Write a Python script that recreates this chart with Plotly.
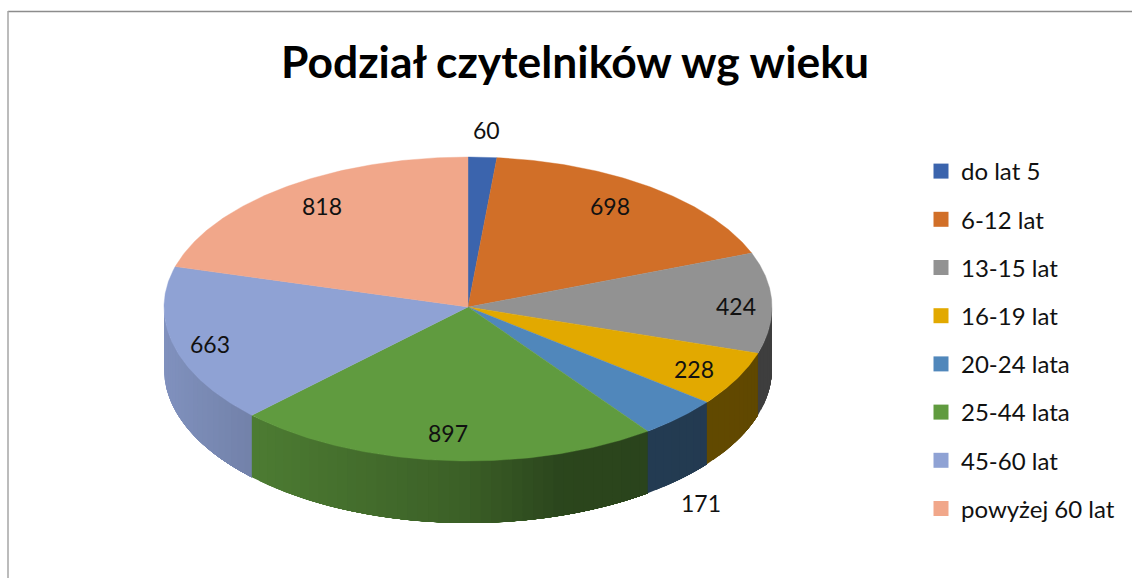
import numpy as np
import plotly.graph_objects as go

# --- data
categories = ["do lat 5", "6-12 lat", "13-15 lat", "16-19 lat", "20-24 lata", "25-44 lata", "45-60 lat", "powyżej 60 lat"]
values = [60, 698, 424, 228, 171, 897, 663, 818]
title_text = "Podział czytelników wg wieku"

# --- style
colors = ["#3b64ad", "#d16f28", "#929292", "#e2a900", "#5087bb", "#609b3f", "#8fa2d4", "#f1a78a"]
FONT = "Lato, 'Open Sans', sans-serif"
W, H = 1132, 578
CX, CY, RX, RY_BACK, RY_FRONT, DEPTH = 468, 307, 304, 150, 154, 62
label_radius = [1.17, 0.8, 0.88, 0.84, 1.0, 0.85, 0.87, 0.8]
label_shift = [(2, -2), (-5, -5), (1, 3), (0, 2), (22, 85), (0, -4), (-2, 3), (1, -5)]


def rim(t):
    """Point on the top ellipse for clockwise angles t (radians, 0 = up)."""
    c = np.cos(t)
    return CX + RX * np.sin(t), CY - np.where(c > 0, RY_BACK, RY_FRONT) * c


def shade(x):
    return np.interp(x, [160, 250, 460, 560, 800], [0.9, 0.8, 0.62, 0.45, 0.42])


def scaled(hex_color, k):
    r, g, b = (int(hex_color[i:i + 2], 16) for i in (1, 3, 5))
    return f"rgb({r * k:.0f},{g * k:.0f},{b * k:.0f})"


fractions = np.array(values) / sum(values)
edges = np.concatenate([[0], np.cumsum(fractions)]) * 2 * np.pi
fig = go.Figure()

# side wall, visible on the front half; each strip runs on to the end of its
# slice and the next one paints over it, so no seams appear in the gradient
STEP = np.radians(2)
for i in range(len(colors) - 1, -1, -1):
    a, b = max(edges[i], np.pi / 2), min(edges[i + 1], 3 * np.pi / 2)
    if b <= a:
        continue
    n = max(1, int(np.ceil((b - a) / STEP)))
    ts = np.linspace(a, b, n + 1)
    # painted from the slice's far end towards its start, narrowing towards the start
    for t1 in ts[1:][::-1]:
        tt = np.linspace(a, t1, 40)
        x, y = rim(tt)
        px = np.concatenate([x, x[::-1]])
        py = np.concatenate([y, (y + DEPTH)[::-1]])
        xm = float(rim(np.array([t1 - (b - a) / n / 2]))[0][0])
        c = scaled(colors[i], float(shade(xm)))
        fig.add_trace(go.Scatter(x=px, y=py, mode="lines", fill="toself", fillcolor=c,
                                 line=dict(width=0), showlegend=False, hoverinfo="skip"))

# top face
for i, col in enumerate(colors):
    tt = np.linspace(edges[i], edges[i + 1], 120)
    x, y = rim(tt)
    fig.add_trace(go.Scatter(x=np.r_[CX, x, CX], y=np.r_[CY, y, CY], mode="lines", fill="toself",
                             fillcolor=col, line=dict(color=col, width=0.4), showlegend=False,
                             name=categories[i], hoverinfo="text", text=f"{categories[i]}: {values[i]}"))

# legend entries
for i, col in enumerate(colors):
    fig.add_trace(go.Scatter(x=[None], y=[None], mode="markers", name=categories[i], legendgroup=categories[i],
                             marker=dict(symbol="square", size=15, color=col)))

# value labels
annotations = []
for i, v in enumerate(values):
    mid = (edges[i] + edges[i + 1]) / 2
    x, y = rim(mid)
    k = label_radius[i]
    annotations.append(dict(x=CX + (x - CX) * k + label_shift[i][0], y=CY + (y - CY) * k + label_shift[i][1],
                            text=str(v), showarrow=False, font=dict(family=FONT, size=23, color="#111111")))

fig.update_layout(
    width=W, height=H, autosize=False,
    margin=dict(l=0, r=0, t=0, b=0),
    paper_bgcolor="white", plot_bgcolor="white",
    xaxis=dict(range=[0, W], visible=False, fixedrange=True),
    yaxis=dict(range=[H, 0], visible=False, fixedrange=True),
    title=dict(text=f"<b>{title_text}</b>", x=575 / W, y=1 - 62 / H, xanchor="center", yanchor="middle",
               font=dict(family=FONT, size=44.4, color="#000000")),
    legend=dict(x=921 / W, y=1 - 149 / H, xanchor="left", yanchor="top", tracegroupgap=14,
                font=dict(family=FONT, size=24, color="#111111"), bgcolor="rgba(0,0,0,0)",
                traceorder="grouped"),
    annotations=annotations,
    shapes=[
        dict(type="line", xref="x", yref="y", x0=8, x1=W, y0=11.5, y1=11.5, line=dict(color="#8c8c8c", width=1.5)),
        dict(type="line", xref="x", yref="y", x0=8, x1=8, y0=11, y1=H, line=dict(color="#a6a6a6", width=1.5)),
    ],
)
fig.write_html("out.html", config=dict(displayModeBar=False),
               post_script="document.body.style.margin='0';document.documentElement.style.overflow='hidden';")
